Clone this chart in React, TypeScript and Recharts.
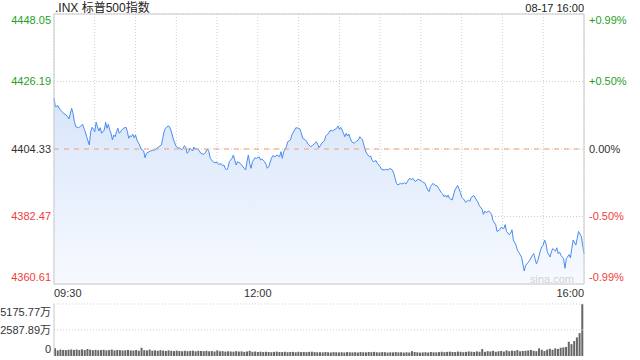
import {
  ComposedChart, Area, Line, XAxis, YAxis, CartesianGrid, ReferenceLine, ReferenceArea,
  BarChart, Bar,
} from 'recharts'

const FONT = '"Liberation Sans", Arial, "Noto Sans CJK SC", sans-serif'
const GREEN = '#1f9f1f'
const RED = '#f23c3c'
const TEXT = '#333333'
const GRID = '#cfcfcf'

const PREV_CLOSE = 4404.33
const PRICE_TICKS = [4360.61, 4382.47, 4404.33, 4426.19, 4448.05]
const PCT_LABELS = ['-0.99%', '-0.50%', '0.00%', '+0.50%', '+0.99%']
const GRID_MINUTES = [0, 30, 60, 90, 120, 150, 180, 210, 240, 270, 300, 330, 360, 390]
const TIME_TICKS = [0, 150, 390]
const TIME_LABELS = ['09:30', '12:00', '16:00']
const VOL_TICKS = [0, 2587.89, 5175.77]
const VOL_LABELS = ['0', '2587.89万', '5175.77万']

// minutes after 09:30
const minutes = [
  0, 1, 3, 4, 6, 7, 9, 10, 11, 13,
  14, 15, 16, 18, 19, 21, 22, 23, 24, 26,
  27, 28, 29, 30, 31, 32, 33, 34, 35, 37,
  38, 39, 40, 41, 42, 43, 44, 45, 46, 47,
  48, 50, 51, 53, 54, 55, 56, 57, 58, 59,
  60, 61, 63, 64, 66, 67, 68, 70, 71, 73,
  74, 76, 77, 79, 80, 81, 82, 84, 85, 86,
  87, 88, 90, 91, 93, 94, 95, 96, 97, 98,
  99, 100, 102, 103, 104, 105, 107, 108, 110, 111,
  112, 113, 114, 115, 117, 118, 120, 121, 123, 124,
  125, 126, 127, 128, 129, 131, 132, 133, 134, 135,
  137, 138, 140, 141, 142, 143, 144, 145, 146, 148,
  149, 151, 152, 153, 155, 156, 157, 158, 160, 161,
  163, 164, 166, 167, 168, 169, 171, 172, 174, 175,
  177, 178, 180, 181, 182, 183, 185, 186, 187, 189,
  190, 192, 193, 194, 195, 197, 199, 200, 202, 203,
  205, 206, 208, 209, 210, 211, 212, 213, 214, 215,
  216, 217, 218, 219, 221, 222, 224, 225, 226, 227,
  228, 229, 230, 232, 233, 234, 235, 237, 238, 240,
  241, 243, 244, 246, 247, 249, 250, 251, 252, 253,
  255, 256, 258, 259, 260, 261, 262, 263, 264, 265,
  266, 267, 268, 270, 271, 273, 274, 275, 276, 277,
  278, 279, 280, 282, 283, 285, 286, 287, 288, 289,
  290, 291, 293, 294, 295, 297, 298, 299, 300, 302,
  303, 305, 306, 307, 309, 310, 312, 313, 315, 316,
  317, 318, 320, 321, 322, 323, 325, 326, 328, 329,
  331, 332, 333, 335, 336, 337, 338, 340, 341, 343,
  344, 345, 346, 347, 349, 350, 352, 353, 354, 355,
  356, 358, 359, 360, 361, 362, 363, 365, 366, 367,
  369, 370, 371, 372, 373, 375, 376, 377, 379, 380,
  381, 382, 384, 385, 386, 388, 389, 390,
]

const prices = [
  4420.90, 4418.03, 4418.35, 4417.29, 4416.41, 4415.89, 4415.34, 4414.79, 4414.05, 4417.51,
  4415.89, 4413.17, 4411.55, 4411.23, 4411.46, 4412.33, 4411.03, 4409.93, 4408.31, 4405.63,
  4409.93, 4411.36, 4410.71, 4409.93, 4412.98, 4411.55, 4410.16, 4411.23, 4409.42, 4410.48,
  4412.98, 4411.03, 4412.33, 4410.48, 4409.42, 4407.25, 4408.86, 4408.31, 4409.93, 4411.03,
  4409.42, 4410.48, 4411.03, 4411.36, 4409.93, 4407.80, 4408.64, 4408.31, 4409.09, 4407.99,
  4408.86, 4407.25, 4405.63, 4404.33, 4403.68, 4401.51, 4402.94, 4403.46, 4403.68, 4404.01,
  4403.91, 4404.75, 4404.98, 4405.63, 4407.80, 4409.93, 4411.03, 4411.78, 4411.55, 4410.48,
  4408.86, 4407.25, 4405.07, 4404.75, 4404.56, 4404.01, 4404.56, 4405.40, 4404.75, 4402.94,
  4403.46, 4404.56, 4403.68, 4404.98, 4404.23, 4404.56, 4403.68, 4402.94, 4402.61, 4402.94,
  4403.68, 4404.33, 4403.46, 4401.32, 4400.22, 4399.89, 4400.02, 4399.37, 4399.57, 4398.92,
  4399.15, 4398.08, 4397.53, 4398.27, 4400.22, 4401.32, 4402.39, 4400.77, 4399.15, 4400.22,
  4399.70, 4399.15, 4398.08, 4397.53, 4400.22, 4402.39, 4399.70, 4398.08, 4400.22, 4401.51,
  4401.32, 4401.74, 4400.77, 4401.09, 4400.22, 4399.37, 4398.08, 4398.60, 4401.32, 4402.16,
  4401.84, 4402.39, 4401.84, 4403.46, 4401.32, 4403.46, 4405.07, 4406.69, 4407.25, 4408.86,
  4410.48, 4411.23, 4411.03, 4410.81, 4409.42, 4407.80, 4407.25, 4406.69, 4405.85, 4405.07,
  4405.40, 4406.18, 4406.69, 4405.85, 4404.75, 4406.18, 4407.02, 4408.54, 4409.42, 4410.26,
  4410.26, 4410.48, 4411.03, 4411.78, 4410.71, 4411.36, 4410.48, 4409.42, 4408.31, 4409.42,
  4408.54, 4409.19, 4407.80, 4406.69, 4406.18, 4406.69, 4407.25, 4408.31, 4407.80, 4407.25,
  4405.63, 4404.01, 4402.94, 4401.84, 4402.06, 4400.77, 4400.22, 4400.54, 4399.70, 4398.60,
  4397.75, 4397.53, 4397.75, 4397.53, 4398.08, 4397.53, 4396.46, 4394.84, 4393.22, 4392.67,
  4393.22, 4392.99, 4393.41, 4392.99, 4393.74, 4394.52, 4394.84, 4394.29, 4394.84, 4394.29,
  4393.74, 4394.29, 4394.52, 4394.06, 4393.74, 4393.22, 4392.12, 4391.05, 4390.50, 4392.12,
  4392.67, 4393.22, 4392.67, 4392.35, 4391.60, 4390.18, 4389.75, 4388.88, 4389.43, 4388.69,
  4389.43, 4388.36, 4387.81, 4389.43, 4391.05, 4392.54, 4391.44, 4390.34, 4388.69, 4387.81,
  4387.03, 4387.81, 4387.36, 4388.69, 4389.24, 4388.46, 4387.03, 4385.93, 4384.83, 4383.15,
  4384.25, 4383.70, 4384.25, 4383.70, 4383.15, 4381.17, 4379.84, 4377.64, 4378.19, 4378.97,
  4378.52, 4379.84, 4377.64, 4376.54, 4377.09, 4378.19, 4374.86, 4373.20, 4371.55, 4370.13,
  4369.35, 4367.11, 4364.83, 4366.56, 4367.66, 4368.25, 4369.90, 4370.45, 4368.80, 4367.11,
  4368.25, 4371.55, 4372.65, 4373.20, 4374.86, 4373.75, 4371.00, 4369.35, 4371.00, 4372.10,
  4371.23, 4372.33, 4370.45, 4371.00, 4369.90, 4368.80, 4365.69, 4368.80, 4370.13, 4369.02,
  4372.10, 4374.86, 4373.20, 4375.44, 4377.64, 4375.99, 4373.20, 4370.36,
]

// volume per 2 minutes, in 万
const volumes = [
  780, 560, 640, 600, 590, 620, 650, 610, 640, 600, 660, 590, 700, 630,
  580, 610, 570, 600, 620, 560, 590, 640, 560, 600, 590, 550, 570, 600,
  560, 540, 600, 520, 820, 580, 560, 640, 530, 560, 520, 580, 540, 500,
  560, 520, 490, 540, 500, 470, 520, 480, 510, 530, 470, 520, 500, 480,
  520, 470, 490, 450, 560, 470, 480, 440, 470, 450, 430, 480, 440, 460,
  410, 450, 520, 420, 440, 400, 430, 390, 420, 400, 380, 410, 440, 400,
  390, 420, 380, 400, 410, 370, 420, 390, 400, 380, 410, 430, 390, 370,
  380, 360, 400, 370, 350, 390, 370, 360, 380, 350, 390, 370, 360, 380,
  350, 390, 370, 360, 400, 380, 410, 370, 360, 390, 380, 350, 370, 360,
  390, 360, 380, 340, 370, 350, 480, 400, 370, 340, 360, 380, 350, 400,
  370, 360, 390, 420, 380, 410, 430, 400, 390, 440, 420, 380, 410, 450,
  430, 400, 460, 420, 690, 410, 480, 450, 520, 420, 470, 500, 440, 560,
  480, 530, 510, 590, 470, 500, 520, 560, 600, 520, 480, 760, 620, 500,
  640, 720, 620, 760, 700, 820, 860, 900, 1420, 1180, 1490, 1850, 2280, 5175.77,
]

const priceData = minutes.map((m, i) => ({ m, price: prices[i] }))
const volData = volumes.map((vol, i) => ({ i, vol }))

function tickColor(v: number) {
  if (v > PREV_CLOSE) return GREEN
  if (v < PREV_CLOSE) return RED
  return TEXT
}

// top label sits under the top line, bottom label above the bottom line
function edgeShift(i: number, count: number, top = 6) {
  if (i === count - 1) return top
  if (i === 0) return -7
  return 0
}

function PriceTick(props: any) {
  const { x, y, payload } = props
  const i = PRICE_TICKS.indexOf(payload.value)
  return (
    <text x={x} y={y + edgeShift(i, PRICE_TICKS.length)} dy="0.35em" textAnchor="end"
      fontSize={11} fontFamily={FONT} fill={tickColor(payload.value)}>
      {payload.value.toFixed(2)}
    </text>
  )
}

function PctTick(props: any) {
  const { x, y, payload } = props
  const i = PRICE_TICKS.indexOf(payload.value)
  return (
    <text x={x} y={y + edgeShift(i, PRICE_TICKS.length)} dy="0.35em" textAnchor="start"
      fontSize={11} fontFamily={FONT} fill={tickColor(payload.value)}>
      {PCT_LABELS[i]}
    </text>
  )
}

function TimeTick(props: any) {
  const { x, y, payload } = props
  const i = TIME_TICKS.indexOf(payload.value)
  if (i < 0) return <g />
  const anchor = i === 0 ? 'start' : i === TIME_TICKS.length - 1 ? 'end' : 'middle'
  return (
    <text x={x} y={y} dy="0.71em" textAnchor={anchor} fontSize={11} fontFamily={FONT} fill={TEXT}>
      {TIME_LABELS[i]}
    </text>
  )
}

function VolTick(props: any) {
  const { x, y, payload } = props
  const i = VOL_TICKS.indexOf(payload.value)
  return (
    <text x={x} y={y + edgeShift(i, VOL_TICKS.length, 8)} dy="0.35em" textAnchor="end"
      fontSize={11} fontFamily={FONT} fill={TEXT}>
      {VOL_LABELS[i]}
    </text>
  )
}

export default function App() {
  return (
    <div style={{ position: 'absolute', left: 0, top: 0, width: 640, height: 360, background: '#fff', fontFamily: FONT }}>
      <div style={{ position: 'absolute', left: 55, top: 0, fontSize: 12, lineHeight: '16px', color: '#222' }}>
        .INX 标普500指数
      </div>
      <div style={{ position: 'absolute', right: 56, top: 0, fontSize: 11, lineHeight: '16px', color: '#222' }}>
        08-17 16:00
      </div>

      <div style={{ position: 'absolute', left: 0, top: 0 }}>
        <ComposedChart width={640} height={300} data={priceData} margin={{ top: 14, right: 0, bottom: 0, left: 0 }}>
          <defs>
            <linearGradient id="priceFill" x1="0" y1="0" x2="0" y2="1">
              <stop offset="0%" stopColor="#d8e5fa" />
              <stop offset="100%" stopColor="#f7faff" />
            </linearGradient>
          </defs>
          <CartesianGrid stroke={GRID} strokeDasharray="1 2" />
          <XAxis type="number" dataKey="m" domain={[0, 390]} ticks={GRID_MINUTES} interval={0}
            height={16} tickLine={false} axisLine={false} tickSize={0} tickMargin={5} tick={<TimeTick />} />
          <YAxis domain={[PRICE_TICKS[0], PRICE_TICKS[4]]} ticks={PRICE_TICKS} interval={0} width={54}
            tickLine={false} axisLine={false} tickSize={0} tickMargin={3} tick={<PriceTick />} />
          <YAxis yAxisId="pct" orientation="right" domain={[PRICE_TICKS[0], PRICE_TICKS[4]]} ticks={PRICE_TICKS}
            interval={0} width={56} tickLine={false} axisLine={false} tickSize={0} tickMargin={5} tick={<PctTick />} />
          <Area type="linear" dataKey="price" stroke="#4a8cf0" strokeWidth={1} fill="url(#priceFill)" fillOpacity={1}
            baseValue={PRICE_TICKS[0]} dot={false} activeDot={false} isAnimationActive={false} />
          {/* invisible copy so the percent axis has a series bound to it */}
          <Line yAxisId="pct" type="linear" dataKey="price" stroke="none" dot={false} activeDot={false}
            isAnimationActive={false} legendType="none" />
          <ReferenceLine y={PREV_CLOSE} stroke="#f0a070" strokeDasharray="5 5" />
          <ReferenceArea x1={0} x2={390} y1={PRICE_TICKS[0]} y2={PRICE_TICKS[4]} fill="none" fillOpacity={0} stroke="#c8c8c8" />
        </ComposedChart>
      </div>

      <div style={{ position: 'absolute', left: 530, top: 273, fontSize: 11, lineHeight: '12px', color: '#d2d2d2' }}>
        sina.com
      </div>

      <div style={{ position: 'absolute', left: 0, top: 299 }}>
        <BarChart width={640} height={61} data={volData} margin={{ top: 5, right: 56, bottom: 4, left: 0 }} barCategoryGap={0}>
          <XAxis dataKey="i" hide />
          <YAxis domain={[0, VOL_TICKS[2]]} ticks={VOL_TICKS} interval={0} width={54}
            tickLine={false} axisLine={{ stroke: '#c8c8c8' }} tickSize={0} tickMargin={3} tick={<VolTick />} />
          {VOL_TICKS.slice(1).map(v => (
            <ReferenceLine key={v} y={v} stroke={GRID} strokeDasharray="1 2" />
          ))}
          <Bar dataKey="vol" fill="#666666" barSize={2} isAnimationActive={false} />
        </BarChart>
      </div>
    </div>
  )
}
